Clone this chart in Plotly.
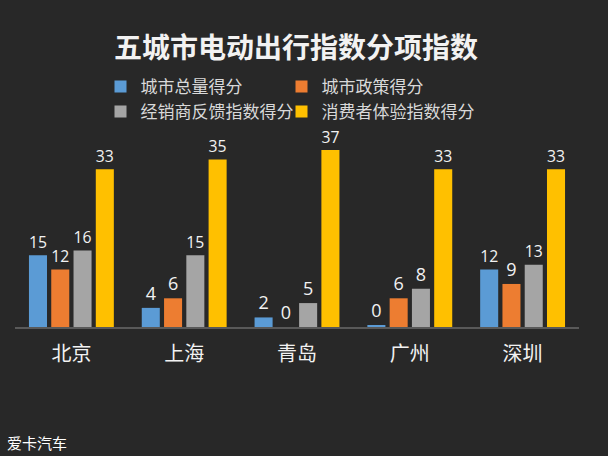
import plotly.graph_objects as go

cities = ["北京", "上海", "青岛", "广州", "深圳"]
series_names = ["城市总量得分", "城市政策得分", "经销商反馈指数得分", "消费者体验指数得分"]
total_score = [15, 4, 2, 0.4, 12]
policy_score = [12, 6, 0, 6, 9]
dealer_score = [16, 15, 5, 8, 13]
consumer_score = [33, 35, 37, 33, 33]
colors = ["#5B9BD5", "#ED7D31", "#A5A5A5", "#FFC000"]
legend_ids = ["legend", "legend2", "legend3", "legend4"]

values = [total_score, policy_score, dealer_score, consumer_score]

fig = go.Figure()
for name, vals, col, lg in zip(series_names, values, colors, legend_ids):
    fig.add_trace(go.Bar(
        x=cities, y=vals, name=name,
        marker=dict(color=col, line=dict(width=0)),
        text=[f"{v:.0f}" for v in vals],
        textposition="outside",
        textfont=dict(family="Open Sans", size=18, color="#f2f2f2"),
        cliponaxis=False,
        legend=lg,
    ))

legend_common = dict(
    orientation="h", xanchor="left", yanchor="middle",
    font=dict(family="Noto Sans CJK SC", size=17, color="#d9d9d9"),
    bgcolor="rgba(0,0,0,0)", itemwidth=30,
)

cx1 = (100.5 - 15) / 564
cx2 = (281.5 - 15) / 564
ry1 = 1 + (140 - 87) / 187
ry2 = 1 + (140 - 112) / 187

fig.update_layout(
    width=608, height=456,
    paper_bgcolor="#282828", plot_bgcolor="#282828",
    margin=dict(l=15, r=29, t=140, b=129),
    barmode="group", bargap=0.21, bargroupgap=0.19,
    showlegend=True,
    title=dict(text="<b>五城市电动出行指数分项指数</b>", x=296 / 608, xanchor="center",
               y=1 - 48 / 456, yanchor="middle",
               font=dict(family="Noto Sans CJK SC", size=28, color="#f2f2f2")),
    legend=dict(x=cx1, y=ry1, **legend_common),
    legend2=dict(x=cx2, y=ry1, **legend_common),
    legend3=dict(x=cx1, y=ry2, **legend_common),
    legend4=dict(x=cx2, y=ry2, **legend_common),
    xaxis=dict(showline=True, linecolor="#595959", linewidth=2, ticks="",
               ticklabelstandoff=8,
               tickfont=dict(family="Noto Sans CJK SC", size=20, color="#f2f2f2"),
               showgrid=False, zeroline=False),
    yaxis=dict(range=[0, 39.1], visible=False, showgrid=False, zeroline=False),
    annotations=[dict(text="爱卡汽车", xref="paper", yref="paper",
                      x=-10 / 564, y=-(442 - 327) / 187, xanchor="left", yanchor="middle",
                      showarrow=False,
                      font=dict(family="Noto Sans CJK SC", size=15, color="#ffffff"))],
)

fig.write_html("out.html")
